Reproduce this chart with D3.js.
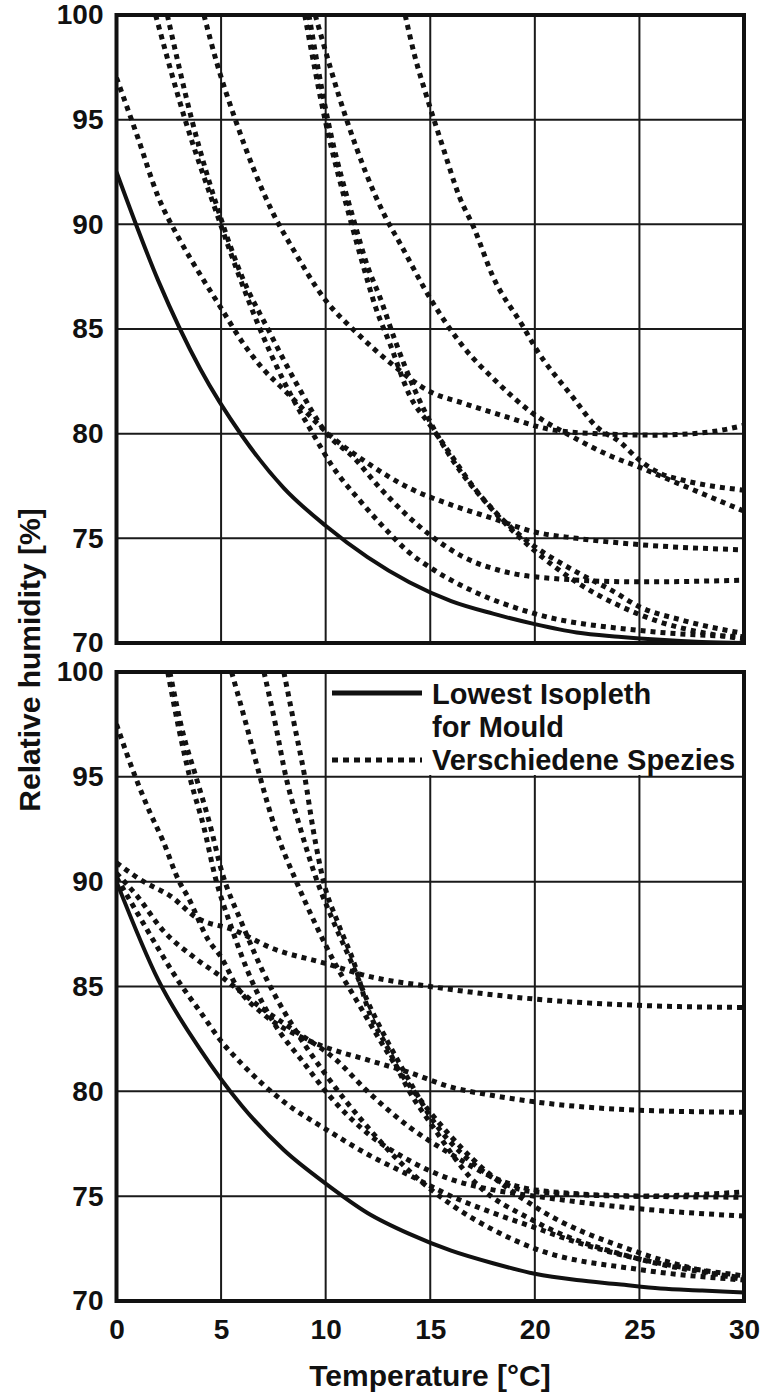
<!DOCTYPE html>
<html>
<head>
<meta charset="utf-8">
<script src="https://cdn.jsdelivr.net/npm/d3@7"></script>
<style>
  body { margin: 0; background: #fff; }
  text { font-family: "Liberation Sans", Arial, sans-serif; font-weight: bold; fill: #111; }
</style>
</head>
<body>
<script>
// ticks
const xTicks = [0, 5, 10, 15, 20, 25, 30];
const yTicks = [70, 75, 80, 85, 90, 95, 100];

// top panel: lowest isopleth + species curves [T, RH]
const topLowest = [[0,92.5],[2,87.3],[4,83.1],[6,79.9],[8,77.4],[10,75.6],[12,74.1],[14,72.9],[16,72.0],[18,71.4],[20,70.9],[22,70.5],[24,70.3],[26,70.15],[28,70.05],[30,70.0]];
const topA = [[0,97],[1,94.2],[2,91.3],[3,89.3],[4,87.6],[5,86],[6,84.4],[7,83.1],[8,82.1],[9,81.1],[10,80.1],[12,78.6],[14,77.4],[16,76.6],[18,75.95],[20,75.3],[22,75.0],[25,74.7],[30,74.45]];
const topQ = [[1.87,100],[3.28,95],[4.8,90.5],[5.8,87.7],[6.86,85],[8,82.5],[9.39,80],[10.35,78.4],[11.64,76.8],[12.9,75.4],[13.9,74.4],[15,73.6],[17,72.5],[20,71.4],[25,70.6],[30,70.3]];
const topR = [[2.43,100],[3.6,95],[4.95,90.4],[6,87.5],[7.24,85],[8.6,82.4],[10.06,80],[11.3,78.9],[12.6,77.4],[15,75.15],[16.6,74.1],[18.2,73.5],[20,73.16],[25,72.92],[30,73.0]];
const topS = [[4.18,100],[4.8,97.7],[5.66,95.06],[7.5,90.5],[8.45,88.8],[9.9,86.5],[11.5,84.8],[13.07,83.4],[15,82.0],[16.6,81.45],[18.65,80.8],[20.9,80.17],[23,80.0],[25.8,79.93],[28.5,80.1],[30,80.4]];
const topU = [[9.5,100],[11.0,95],[12.83,90.4],[13.55,89.1],[15,86.46],[16.58,84.15],[18.17,82.48],[19.9,80.97],[21.8,79.85],[23.7,78.9],[25,78.4],[26.9,77.6],[30,76.3]];
const topV = [[13.8,100],[14.27,98],[14.83,96.1],[15.6,93.7],[16.4,91.3],[17.06,89.9],[18,87.5],[19.45,85.1],[20,84.15],[21.8,81.76],[22.95,80.33],[24.07,79.6],[25,78.74],[26,78.1],[27,77.8],[30,77.3]];
const topW1 = [[9.0,100],[9.97,95],[11.24,90],[11.8,88],[12.4,86],[13.07,84.3],[14.03,81.8],[15,80.4],[15.94,79.06],[17.06,77.46],[18.33,76.03],[20,74.6],[21,73.96],[22.16,73.3],[23.7,72.5],[25,71.73],[27,71.1],[30,70.45]];
const topW2 = [[9.2,100],[10.1,95],[11.4,90],[12,88],[12.6,86.5],[13.3,84.5],[14.3,82],[15.3,80],[16.3,78.4],[17.5,76.9],[19,75.3],[20,74.4],[22,72.9],[24,71.8],[26,71.0],[28,70.5],[30,70.2]];

// bottom panel
const botLowest = [[0,90],[2,85.3],[4,82],[6,79.3],[8,77.2],[10,75.6],[12,74.2],[14,73.2],[16,72.4],[18,71.8],[20,71.3],[22,71.0],[24,70.8],[26,70.6],[28,70.5],[30,70.4]];
const botFlat = [[0,90.9],[1.3,90.0],[2.6,89.3],[3.8,88.3],[5.6,87.7],[7.5,86.8],[10,86.1],[12,85.5],[15,85.0],[20,84.4],[25,84.1],[30,84.0]];
const botB = [[0,97.5],[0.9,95],[1.6,93.3],[2.2,92],[3.0,90.0],[3.4,89.3],[4.4,87.2],[5,86.4],[5.75,85],[7,83.7],[8.8,82.6],[10,82.1],[12,81.5],[14,80.9],[16,80.2],[18,79.8],[20,79.5],[25,79.1],[30,79.0]];
const botMid = [[0,90.4],[1,89.3],[2.2,87.7],[3.7,86.4],[5.1,85.4],[6.9,84],[8.5,82.9],[10.5,81.5],[12,80],[14,78.3],[16,77],[18,75.9],[20,75.3],[25,75.0],[30,74.95]];
const botLow = [[0,90.2],[1,88.5],[2,86.8],[3,85.2],[4,83.8],[5,82.4],[6,81.3],[8,79.5],[10,78.2],[12,77.0],[14,76.0],[16,75.0],[18,74.2],[20,73.5],[22,72.8],[25,72.0],[30,71.2]];
const botS1 = [[2.45,100],[3.0,97.2],[3.5,95],[4.2,92.5],[4.7,90.3],[5.5,87.8],[6.5,85.2],[7.5,83.3],[9,81.3],[10,80],[12,78],[14,76.7],[16,75.8],[18,75.3],[20,75.0],[25,74.4],[30,74.05]];
const botS2 = [[2.55,100],[3.2,97],[3.8,95],[4.5,92.6],[5.0,90.6],[6.0,88.0],[7.2,85.3],[8.5,83],[10,80.8],[12,78.3],[14,76.2],[16,74.6],[18,73.4],[20,72.5],[25,71.5],[30,71.0]];
const botC = [[5.5,100],[6.2,97.5],[6.86,95],[7.6,92.5],[8.6,90],[9.5,88],[10.5,86],[11.5,84.3],[12.5,82.6],[13.5,81],[15,79],[17,76.8],[20,74.5],[25,72.3],[30,71.0]];
const botD = [[7.05,100],[7.6,97.5],[8.1,95],[8.8,92.5],[9.6,90],[10.5,87.8],[11.3,86],[12,84.3],[13,82.3],[14,80.5],[15,78.8],[17,76.6],[20,75.2],[25,75.0],[30,75.2]];
const botE = [[8,100],[8.5,97.5],[9.0,95],[9.4,92.5],[9.9,90],[10.6,88],[11.4,86],[12,84],[13,82],[14,80],[15,78.5],[17,75.8],[20,73.8],[25,72],[30,71.1]];

const topSpecies = [topA, topQ, topR, topS, topU, topV, topW1, topW2];
const botSpecies = [botFlat, botB, botMid, botLow, botS1, botS2, botC, botD, botE];

const legendLabels = ['Lowest Isopleth', 'for Mould', 'Verschiedene Spezies'];

const W = 765, H = 1393;
const x = d3.scaleLinear().domain([0, 30]).range([116.5, 744]);
const yTop = d3.scaleLinear().domain([70, 100]).range([643, 15]);
const yBot = d3.scaleLinear().domain([70, 100]).range([1301, 672]);

const svg = d3.select('body').append('svg')
    .attr('width', W)
    .attr('height', H);

const drawPanel = (y, lowest, species, id) => {
    const x0 = x.range()[0], x1 = x.range()[1];
    const y0 = y.range()[1], y1 = y.range()[0];
    const g = svg.append('g');

    svg.append('clipPath').attr('id', id)
        .append('rect')
        .attr('x', x0).attr('y', y0)
        .attr('width', x1 - x0).attr('height', y1 - y0);

    // grid
    g.selectAll('.vgrid')
        .data(xTicks.slice(1, -1))
        .enter()
        .append('line')
        .attr('x1', d => x(d)).attr('x2', d => x(d))
        .attr('y1', y0).attr('y2', y1)
        .attr('stroke', '#1a1a1a').attr('stroke-width', 2);

    g.selectAll('.hgrid')
        .data(yTicks.slice(1, -1))
        .enter()
        .append('line')
        .attr('x1', x0).attr('x2', x1)
        .attr('y1', d => y(d)).attr('y2', d => y(d))
        .attr('stroke', '#1a1a1a').attr('stroke-width', 2);

    const line = d3.line()
        .x(d => x(d[0]))
        .y(d => y(d[1]))
        .curve(d3.curveMonotoneX);

    const curves = g.append('g').attr('clip-path', `url(#${id})`);

    curves.selectAll('.species')
        .data(species)
        .enter()
        .append('path')
        .attr('d', line)
        .attr('fill', 'none')
        .attr('stroke', '#111')
        .attr('stroke-width', 5)
        .attr('stroke-dasharray', '5,5');

    curves.append('path')
        .datum(lowest)
        .attr('d', line)
        .attr('fill', 'none')
        .attr('stroke', '#111')
        .attr('stroke-width', 4);

    // frame
    g.append('rect')
        .attr('x', x0).attr('y', y0)
        .attr('width', x1 - x0).attr('height', y1 - y0)
        .attr('fill', 'none')
        .attr('stroke', '#111')
        .attr('stroke-width', 4);

    const yAxis = g.append('g')
        .attr('transform', `translate(${x0},0)`)
        .call(d3.axisLeft(y).tickValues(yTicks).tickSize(0).tickPadding(13));
    yAxis.select('.domain').remove();
    yAxis.selectAll('text').style('font-size', '28px').attr('fill', '#111');
    return g;
};

drawPanel(yTop, topLowest, topSpecies, 'clipTop');
const bottom = drawPanel(yBot, botLowest, botSpecies, 'clipBot');

const xAxis = bottom.append('g')
    .attr('transform', `translate(0,${yBot.range()[0]})`)
    .call(d3.axisBottom(x).tickValues(xTicks).tickSize(0).tickPadding(18));
xAxis.select('.domain').remove();
xAxis.selectAll('text').style('font-size', '28px').attr('fill', '#111');

// legend
const leg = svg.append('g');
leg.append('rect')
    .attr('x', 327).attr('y', 674)
    .attr('width', 415).attr('height', 101)
    .attr('fill', '#fff');
leg.append('line')
    .attr('x1', 332).attr('x2', 422).attr('y1', 693).attr('y2', 693)
    .attr('stroke', '#111').attr('stroke-width', 5);
leg.append('line')
    .attr('x1', 332).attr('x2', 422).attr('y1', 760).attr('y2', 760)
    .attr('stroke', '#111').attr('stroke-width', 5)
    .attr('stroke-dasharray', '6,5');
leg.selectAll('.lt')
    .data(legendLabels)
    .enter()
    .append('text')
    .attr('x', 432)
    .attr('y', (d, i) => [704, 737, 770][i])
    .style('font-size', '29px')
    .text(d => d);

// axis titles
svg.append('text')
    .attr('x', 430).attr('y', 1386)
    .attr('text-anchor', 'middle')
    .style('font-size', '30px')
    .text('Temperature [°C]');

svg.append('text')
    .attr('transform', 'translate(40,660) rotate(-90)')
    .attr('text-anchor', 'middle')
    .style('font-size', '30px')
    .text('Relative humidity [%]');
</script>
</body>
</html>
